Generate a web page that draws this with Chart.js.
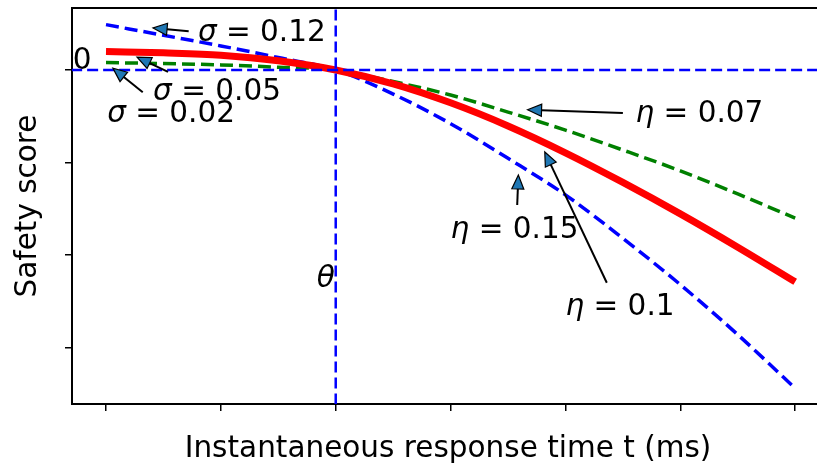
<!DOCTYPE html>
<html>
<head>
<meta charset="utf-8">
<script src="https://cdn.jsdelivr.net/npm/chart.js@4/dist/chart.umd.min.js"></script>
<style>
    html, body { margin: 0; padding: 0; background: #fff; }
</style>
</head>
<body>
<canvas id="safetyChart" width="817" height="467"></canvas>
<script>
// response time axis samples (ticks 0..6, unlabeled in the original)
const tValues = [0, 0.5, 1, 1.5, 2, 2.5, 3, 3.5, 4, 4.5, 5, 5.5, 6];

// safety score curves
const scoreRed = [0.20, 0.185, 0.16, 0.10, 0.0, -0.15, -0.355, -0.605, -0.895, -1.215, -1.555, -1.915, -2.29];
const scoreGreen = [0.08, 0.07, 0.055, 0.03, 0.0, -0.125, -0.27, -0.455, -0.65, -0.865, -1.09, -1.34, -1.60];
const scoreBlue = [0.49, 0.375, 0.26, 0.135, 0.0, -0.26, -0.58, -0.955, -1.35, -1.82, -2.32, -2.86, -3.44];

const xTicks = [0, 1, 2, 3, 4, 5, 6];
const yTicks = [0, -1, -2, -3];

const thetaT = 2;
const zeroScore = 0;

const FONT = '"DejaVu Sans", sans-serif';
const FONT_SIZE = 29.5;

// text labels with arrows: symbol, rest of label, arrow tip, arrow tail, text anchor
const notes = [
    { sym: "σ", rest: " = 0.12", tip: [0.41, 0.454], tail: [0.72, 0.42], at: [0.80, 0.40] },
    { sym: "σ", rest: " = 0.05", tip: [0.27, 0.14], tail: [0.54, -0.02], at: [0.41, -0.24] },
    { sym: "σ", rest: " = 0.02", tip: [0.06, 0.02], tail: [0.32, -0.24], at: [0.01, -0.48] },
    { sym: "η", rest: " = 0.07", tip: [3.67, -0.43], tail: [4.50, -0.465], at: [4.61, -0.475] },
    { sym: "η", rest: " = 0.15", tip: [3.59, -1.135], tail: [3.58, -1.46], at: [3.0, -1.73] },
    { sym: "η", rest: " = 0.1", tip: [3.82, -0.886], tail: [4.36, -2.30], at: [4.0, -2.56] },
];

const toPoints = (ys) => tValues.map((t, i) => ({ x: t, y: ys[i] }));

/*
|--------------------------------------------------------------------------
| Extras: top spine, annotations, axis titles
|--------------------------------------------------------------------------
*/

const extras = {
    id: "extras",

    afterDatasetsDraw(chart) {
        const { ctx, chartArea, scales } = chart;
        const sx = scales.x;
        const sy = scales.y;

        ctx.save();

        // top spine
        ctx.strokeStyle = "#000";
        ctx.lineWidth = 2;
        ctx.beginPath();
        ctx.moveTo(chartArea.left - 1, chartArea.top);
        ctx.lineTo(chartArea.right, chartArea.top);
        ctx.stroke();

        ctx.textBaseline = "middle";
        ctx.fillStyle = "#000";

        notes.forEach((n) => {
            const tx = sx.getPixelForValue(n.tip[0]);
            const ty = sy.getPixelForValue(n.tip[1]);
            const fx = sx.getPixelForValue(n.tail[0]);
            const fy = sy.getPixelForValue(n.tail[1]);

            const ang = Math.atan2(ty - fy, tx - fx);
            const headLen = 14;
            const headW = 6;
            const bx = tx - headLen * Math.cos(ang);
            const by = ty - headLen * Math.sin(ang);

            ctx.strokeStyle = "#000";
            ctx.lineWidth = 2;
            ctx.beginPath();
            ctx.moveTo(fx, fy);
            ctx.lineTo(bx, by);
            ctx.stroke();

            ctx.beginPath();
            ctx.moveTo(tx, ty);
            ctx.lineTo(bx + headW * Math.sin(ang), by - headW * Math.cos(ang));
            ctx.lineTo(bx - headW * Math.sin(ang), by + headW * Math.cos(ang));
            ctx.closePath();
            ctx.fillStyle = "#1f77b4";
            ctx.fill();
            ctx.lineWidth = 1.2;
            ctx.stroke();

            const lx = sx.getPixelForValue(n.at[0]);
            const ly = sy.getPixelForValue(n.at[1]);
            ctx.fillStyle = "#000";
            ctx.textAlign = "left";
            ctx.font = `italic ${FONT_SIZE}px ${FONT}`;
            ctx.fillText(n.sym, lx, ly);
            const w = ctx.measureText(n.sym).width;
            ctx.font = `${FONT_SIZE}px ${FONT}`;
            ctx.fillText(n.rest, lx + w, ly);
        });

        // theta marker
        ctx.font = `italic ${FONT_SIZE}px ${FONT}`;
        ctx.textAlign = "right";
        ctx.fillText("θ", sx.getPixelForValue(thetaT) - 1, sy.getPixelForValue(-2.26));

        // zero label
        ctx.font = `${FONT_SIZE}px ${FONT}`;
        ctx.textAlign = "left";
        ctx.fillText("0", sx.getPixelForValue(-0.29), sy.getPixelForValue(0.09));

        // axis titles
        ctx.textAlign = "center";
        ctx.fillText("Instantaneous response time t (ms)", 448, 449);

        ctx.translate(28, 206);
        ctx.rotate(-Math.PI / 2);
        ctx.fillText("Safety score", 0, 0);

        ctx.restore();
    },
};

const ctx = document.getElementById("safetyChart");

new Chart(ctx, {
    type: "line",

    data: {
        datasets: [
            {
                label: "zero",
                data: [{ x: -1, y: zeroScore }, { x: 7, y: zeroScore }],
                borderColor: "#0000ff",
                borderWidth: 2.5,
                borderDash: [11, 5],
                pointRadius: 0,
            },
            {
                label: "theta",
                data: [{ x: thetaT, y: -5 }, { x: thetaT, y: 2 }],
                borderColor: "#0000ff",
                borderWidth: 2.5,
                borderDash: [11, 5],
                pointRadius: 0,
            },
            {
                label: "eta 0.1",
                data: toPoints(scoreRed),
                borderColor: "#ff0000",
                borderWidth: 7,
                pointRadius: 0,
                cubicInterpolationMode: "monotone",
            },
            {
                label: "eta 0.07",
                data: toPoints(scoreGreen),
                borderColor: "#008000",
                borderWidth: 3.5,
                borderDash: [13, 6],
                pointRadius: 0,
                cubicInterpolationMode: "monotone",
            },
            {
                label: "eta 0.15",
                data: toPoints(scoreBlue),
                borderColor: "#0000ff",
                borderWidth: 3.5,
                borderDash: [13, 6],
                pointRadius: 0,
                cubicInterpolationMode: "monotone",
            },
        ],
    },

    options: {
        responsive: false,
        animation: false,
        events: [],

        layout: {
            padding: { top: 8, left: 0, right: 0, bottom: 0 },
        },

        plugins: {
            legend: { display: false },
            tooltip: { enabled: false },
        },

        scales: {
            x: {
                type: "linear",
                min: -0.296,
                max: 6.19,
                afterBuildTicks: (s) => {
                    s.ticks = xTicks.map((v) => ({ value: v }));
                },
                afterFit: (s) => {
                    s.height = 63;
                },
                ticks: { display: false },
                grid: {
                    drawOnChartArea: false,
                    drawTicks: true,
                    tickLength: 7,
                    color: "#000",
                    lineWidth: 1.5,
                },
                border: { display: true, color: "#000", width: 2 },
            },

            y: {
                type: "linear",
                min: -3.61,
                max: 0.67,
                afterBuildTicks: (s) => {
                    s.ticks = yTicks.map((v) => ({ value: v }));
                },
                afterFit: (s) => {
                    s.width = 72;
                },
                ticks: { display: false },
                grid: {
                    drawOnChartArea: false,
                    drawTicks: true,
                    tickLength: 7,
                    color: "#000",
                    lineWidth: 1.5,
                },
                border: { display: true, color: "#000", width: 2 },
            },
        },
    },

    plugins: [extras],
});
</script>
</body>
</html>
